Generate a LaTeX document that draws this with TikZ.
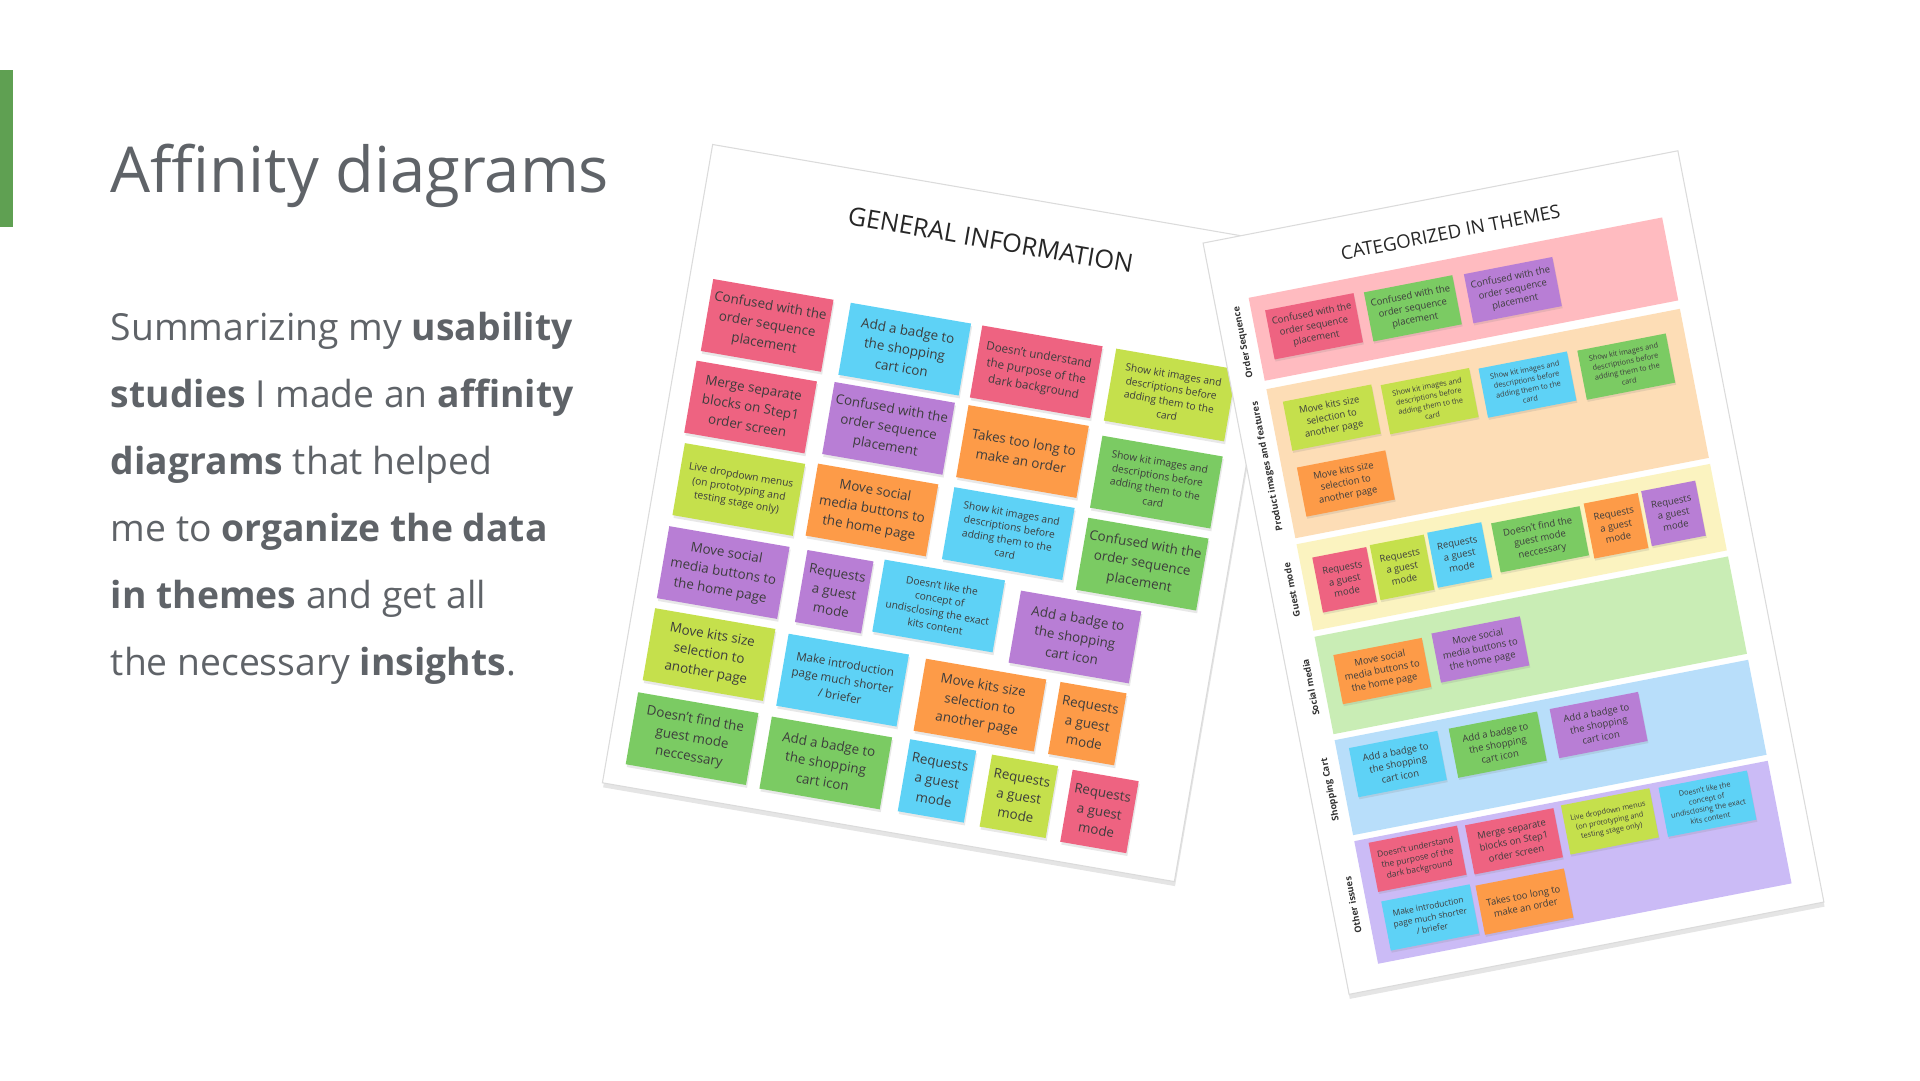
\documentclass[tikz,border=0pt]{standalone}
\usepackage{fontspec}
\setmainfont{Open Sans}
\usepackage{xcolor}
\usetikzlibrary{shadows}

\definecolor{slidegray}{HTML}{5F6368}
\definecolor{accentgreen}{HTML}{5FA052}
\definecolor{notetext}{HTML}{3D3D3D}
\definecolor{notepink}{HTML}{EE6381}
\definecolor{noteblue}{HTML}{5ED2F6}
\definecolor{notelime}{HTML}{C5E04C}
\definecolor{notegreen}{HTML}{7BCB63}
\definecolor{noteorange}{HTML}{FD9B48}
\definecolor{notepurple}{HTML}{B87ED5}
\definecolor{bandpink}{HTML}{FFBBC0}
\definecolor{bandpeach}{HTML}{FDDDB6}
\definecolor{bandyellow}{HTML}{FBF3C0}
\definecolor{bandgreen}{HTML}{C9EDB5}
\definecolor{bandblue}{HTML}{B8DEFA}
\definecolor{bandpurple}{HTML}{CBBBF6}

\tikzset{
  sheet/.style={fill=white, draw=black!14, line width=0.3pt,
    drop shadow={opacity=0.2, shadow xshift=0.2pt, shadow yshift=-1.3pt}},
  notebase/.style={inner sep=0pt, align=center, text=notetext},
  note/.style={notebase, minimum width=1.22cm, minimum height=0.73cm,
    font=\fontsize{3.8}{5.4}\selectfont,
    drop shadow={opacity=0.18, shadow xshift=0.3pt, shadow yshift=-0.8pt}},
  reqnote/.style={note, minimum width=0.67cm},
  smalltext/.style={font=\fontsize{2.9}{3.9}\selectfont},
  midtext/.style={font=\fontsize{3.3}{4.6}\selectfont},
  themenote/.style={notebase, minimum width=0.9cm, minimum height=0.5cm,
    font=\fontsize{2.7}{3.5}\selectfont,
    drop shadow={opacity=0.18, shadow xshift=0.25pt, shadow yshift=-0.6pt}},
  themereq/.style={themenote, minimum width=0.55cm, minimum height=0.56cm},
  themesmall/.style={font=\fontsize{2.1}{2.8}\selectfont},
  thememid/.style={font=\fontsize{2.4}{3.2}\selectfont},
  themelabel/.style={rotate=90, inner sep=0pt, text=black!80,
    font=\fontsize{2.6}{3}\selectfont\bfseries},
}

\begin{document}
\begin{tikzpicture}[x=0.012245cm, y=-0.012245cm]
  \fill[white] (0,0) rectangle (1568,882);
  \useasboundingbox (0,0) rectangle (1568,882);

  % left part of the slide
  \fill[accentgreen] (0,57) rectangle (11,185);
  \node[anchor=base west, inner sep=0pt, text=slidegray, font=\fontsize{18}{22}\selectfont] (title) at (90,157) {Affinity diagrams};
  \node[anchor=north west, inner sep=0pt, align=left, text=slidegray, font=\fontsize{10.6}{19.1}\selectfont] (summary) at (90,254)
    {Summarizing my \textbf{usability}\\
     \textbf{studies} I made an \textbf{affinity}\\
     \textbf{diagrams} that helped\\
     me to \textbf{organize the data}\\
     \textbf{in themes} and get all\\
     the necessary \textbf{insights}.};

  % sheet 1: general information
  \begin{scope}[shift={(582,118)}, rotate=-9.8, transform shape]
    \path[sheet] (0,0) rectangle (474,529);
    \node[font=\fontsize{7.2}{8}\selectfont, text=black!85] (gentitle) at (237,38) {GENERAL INFORMATION};
    % row 1
    \node[note, fill=notepink] (g1) at (69,138) {Confused with the\\order sequence\\placement};
    \node[note, fill=noteblue] (g2) at (183,138) {Add a badge to\\the shopping\\cart icon};
    \node[note, midtext, fill=notepink] (g3) at (292,138) {Doesn't understand\\the purpose of the\\dark background};
    \node[note, smalltext, fill=notelime] (g4) at (403,138) {Show kit images and\\descriptions before\\adding them to the\\card};
    % row 2
    \node[note, fill=notepink] (g5) at (67,206) {Merge separate\\blocks on Step1\\order screen};
    \node[note, fill=notepurple] (g6) at (181,204) {Confused with the\\order sequence\\placement};
    \node[note, fill=noteorange] (g7) at (292,204) {Takes too long to\\make an order};
    \node[note, smalltext, fill=notegreen] (g8) at (404,210) {Show kit images and\\descriptions before\\adding them to the\\card};
    % row 3
    \node[note, smalltext, fill=notelime] (g9) at (69,274) {Live dropdown menus\\(on prototyping and\\testing stage only)};
    \node[note, fill=noteorange] (g10) at (179,272) {Move social\\media buttons to\\the home page};
    \node[note, smalltext, fill=noteblue] (g11) at (292,272) {Show kit images and\\descriptions before\\adding them to the\\card};
    \node[note, fill=notegreen] (g12) at (404,278) {Confused with the\\order sequence\\placement};
    % row 4
    \node[note, fill=notepurple] (g13) at (68,343) {Move social\\media buttons to\\the home page};
    \node[reqnote, fill=notepurple] (g14) at (160,343) {Requests\\a guest\\mode};
    \node[note, smalltext, fill=noteblue] (g15) at (246,340) {Doesn't like the\\concept of\\undisclosing the exact\\kits content};
    \node[note, fill=notepurple] (g16) at (360,346) {Add a badge to\\the shopping\\cart icon};
    % row 5
    \node[note, fill=notelime] (g17) at (68,411) {Move kits size\\selection to\\another page};
    \node[note, midtext, fill=noteblue] (g18) at (179,413) {Make introduction\\page much shorter\\/ briefer};
    \node[note, fill=noteorange] (g19) at (293,414) {Move kits size\\selection to\\another page};
    \node[reqnote, fill=noteorange] (g20) at (382,414) {Requests\\a guest\\mode};
    % row 6
    \node[note, fill=notegreen] (g21) at (66,481) {Doesn't find the\\guest mode\\neccessary};
    \node[note, fill=notegreen] (g22) at (177,482) {Add a badge to\\the shopping\\cart icon};
    \node[reqnote, fill=noteblue] (g23) at (269,481) {Requests\\a guest\\mode};
    \node[reqnote, fill=notelime] (g24) at (337,482) {Requests\\a guest\\mode};
    \node[reqnote, fill=notepink] (g25) at (404,483) {Requests\\a guest\\mode};
  \end{scope}

  % sheet 2: categorized in themes
  \begin{scope}[shift={(982.5,198.5)}, rotate=11, transform shape]
    \path[sheet] (0,0) rectangle (395,625);
    \node[font=\fontsize{5.3}{6}\selectfont, text=black!85] (cattitle) at (200,30) {CATEGORIZED IN THEMES};
    \fill[bandpink] (28,51) rectangle (372,120);
    \fill[bandpeach] (28,127) rectangle (372,251);
    \fill[bandyellow] (28,256) rectangle (372,328);
    \fill[bandgreen] (28,333) rectangle (372,414);
    \fill[bandblue] (28,419) rectangle (372,498);
    \fill[bandpurple] (28,503) rectangle (372,605);
    \node[themelabel] (order) at (17,86) {Order Sequence};
    \node[themelabel] (product) at (17,189) {Product images and features};
    \node[themelabel] (guest) at (17,292) {Guest mode};
    \node[themelabel] (social) at (17,373) {Social media};
    \node[themelabel] (cart) at (17,458) {Shopping Cart};
    \node[themelabel] (other) at (17,554) {Other issues};
    % order sequence
    \node[themenote, fill=notepink] (c1) at (76,84) {Confused with the\\order sequence\\placement};
    \node[themenote, fill=notegreen] (c2) at (158,85) {Confused with the\\order sequence\\placement};
    \node[themenote, fill=notepurple] (c3) at (241,86) {Confused with the\\order sequence\\placement};
    % product images and features
    \node[themenote, fill=notelime] (c4) at (76,160) {Move kits size\\selection to\\another page};
    \node[themenote, themesmall, fill=notelime] (c5) at (157,162) {Show kit images and\\descriptions before\\adding them to the\\card};
    \node[themenote, themesmall, fill=noteblue] (c6) at (238,164) {Show kit images and\\descriptions before\\adding them to the\\card};
    \node[themenote, themesmall, fill=notegreen] (c7) at (320,165) {Show kit images and\\descriptions before\\adding them to the\\card};
    \node[themenote, fill=noteorange] (c8) at (77,215) {Move kits size\\selection to\\another page};
    % guest mode
    \node[themereq, fill=notepink] (c9) at (61,292) {Requests\\a guest\\mode};
    \node[themereq, fill=notelime] (c10) at (109,291) {Requests\\a guest\\mode};
    \node[themereq, fill=noteblue] (c11) at (157,290) {Requests\\a guest\\mode};
    \node[themenote, fill=notegreen] (c12) at (224,290) {Doesn't find the\\guest mode\\neccessary};
    \node[themereq, fill=noteorange] (c13) at (287,291) {Requests\\a guest\\mode};
    \node[themereq, fill=notepurple] (c14) at (335,290) {Requests\\a guest\\mode};
    % social media
    \node[themenote, fill=noteorange] (c15) at (77,371) {Move social\\media buttons to\\the home page};
    \node[themenote, fill=notepurple] (c16) at (159,369) {Move social\\media buttons to\\the home page};
    % shopping cart
    \node[themenote, fill=noteblue] (c17) at (75,448) {Add a badge to\\the shopping\\cart icon};
    \node[themenote, fill=notegreen] (c18) at (158,448) {Add a badge to\\the shopping\\cart icon};
    \node[themenote, fill=notepurple] (c19) at (242,448) {Add a badge to\\the shopping\\cart icon};
    % other issues
    \node[themenote, thememid, fill=notepink] (c20) at (76,527) {Doesn't understand\\the purpose of the\\dark background};
    \node[themenote, fill=notepink] (c21) at (156,528) {Merge separate\\blocks on Step1\\order screen};
    \node[themenote, themesmall, fill=notelime] (c22) at (236,527) {Live dropdown menus\\(on prototyping and\\testing stage only)};
    \node[themenote, themesmall, fill=noteblue] (c23) at (317,528) {Doesn't like the\\concept of\\undisclosing the exact\\kits content};
    \node[themenote, thememid, fill=noteblue] (c24) at (77,576) {Make introduction\\page much shorter\\/ briefer};
    \node[themenote, fill=noteorange] (c25) at (155,578) {Takes too long to\\make an order};
  \end{scope}
\end{tikzpicture}
\end{document}
